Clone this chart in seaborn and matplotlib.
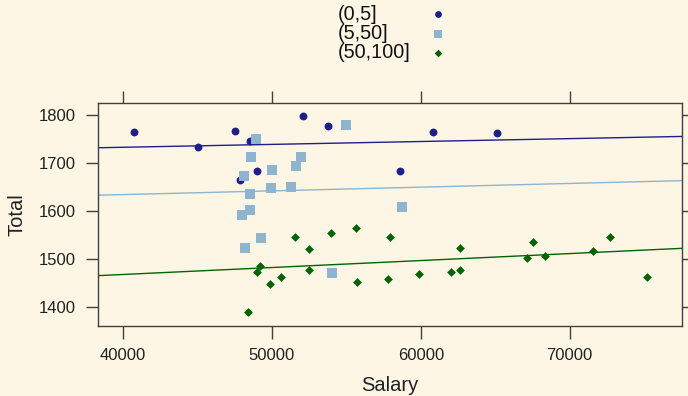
import numpy as np
import pandas as pd
import seaborn as sns
import matplotlib.pyplot as plt

# values
groups = ['(0,5]', '(5,50]', '(50,100]']

salary_a = [40720, 45065, 47532, 48495, 52060, 53766, 48990, 47870, 60800, 65130, 58600]
total_a = [1764, 1733, 1766, 1745, 1797, 1777, 1683, 1665, 1764, 1762, 1683]

salary_b = [48944, 54975, 48585, 51950, 51614, 49999, 48115, 49930, 51275,
            48540, 48540, 47980, 49260, 48185, 54030, 58760]
total_b = [1750, 1780, 1712, 1712, 1694, 1685, 1674, 1649, 1651,
           1635, 1602, 1593, 1544, 1523, 1471, 1608]

salary_c = [49170, 48990, 49840, 50625, 51520, 52460, 52460, 53990, 55620, 55730,
            48385, 57800, 57955, 59905, 62060, 62615, 62640, 67530, 67115, 68350,
            71580, 72700, 75170]
total_c = [1486, 1473, 1448, 1462, 1547, 1521, 1477, 1555, 1564, 1453,
           1390, 1459, 1547, 1470, 1474, 1524, 1477, 1536, 1502, 1507,
           1517, 1547, 1462]

x_ticks = [40000, 50000, 60000, 70000]
y_ticks = [1400, 1500, 1600, 1700, 1800]

df = pd.DataFrame({
    'Salary': salary_a + salary_b + salary_c,
    'Total': total_a + total_b + total_c,
    'group': [groups[0]] * len(salary_a) + [groups[1]] * len(salary_b) + [groups[2]] * len(salary_c),
})

bg = '#FDF6E4'
frame = '#404040'
colors = ['#1E1E8C', '#8DB5D0', '#006400']
markers = ['o', 's', 'D']
sizes = [32, 42, 20]

sns.set_theme(style='ticks')
plt.rcParams['font.family'] = ['Liberation Sans', 'DejaVu Sans']
plt.rcParams['axes.edgecolor'] = frame
plt.rcParams['xtick.color'] = frame
plt.rcParams['ytick.color'] = frame
plt.rcParams['xtick.labelcolor'] = '#222222'
plt.rcParams['ytick.labelcolor'] = '#222222'

fig = plt.figure(figsize=(6.88, 3.96), dpi=100, facecolor=bg)
ax = fig.add_axes([98 / 688, 1 - 326 / 396, 584 / 688, 223 / 396])
ax.set_facecolor(bg)

xlim = (38320, 77540)
ylim = (1361, 1825)
ax.set_xlim(xlim)
ax.set_ylim(ylim)

for g, c, m, s in zip(groups, colors, markers, sizes):
    sub = df[df['group'] == g]
    sns.regplot(data=sub, x='Salary', y='Total', ax=ax, ci=None, truncate=False,
                marker=m, color=c,
                scatter_kws={'s': s, 'linewidths': 0, 'alpha': 1},
                line_kws={'lw': 1})

ax.set_xlim(xlim)
ax.set_ylim(ylim)
ax.set_xticks(x_ticks)
ax.set_yticks(y_ticks)
ax.tick_params(axis='both', direction='out', length=9, width=1, labelsize=12, pad=7)
ax.tick_params(axis='x', top=True, labeltop=False)
ax.tick_params(axis='y', right=True, labelright=False)
for sp in ax.spines.values():
    sp.set_visible(True)
    sp.set_linewidth(1)
    sp.set_color(frame)

ax.set_xlabel('Salary', fontsize=14.5, color='#222222', labelpad=9)
ax.set_ylabel('Total', fontsize=14.5, color='#222222', labelpad=9)

# key on top, text left and symbols right
key = fig.add_axes([0, 0, 1, 1], facecolor='none')
key.set_xlim(0, 688)
key.set_ylim(396, 0)
key.axis('off')
for i, (g, c, m, s) in enumerate(zip(groups, colors, markers, sizes)):
    yy = 14 + i * 19.5
    key.text(338, yy, g, fontsize=14.3, va='center', ha='left', color='#111111')
    key.scatter([438], [yy], marker=m, color=c, s=s * 0.75, linewidths=0)

fig.savefig('out.png', dpi=100, facecolor=bg)
